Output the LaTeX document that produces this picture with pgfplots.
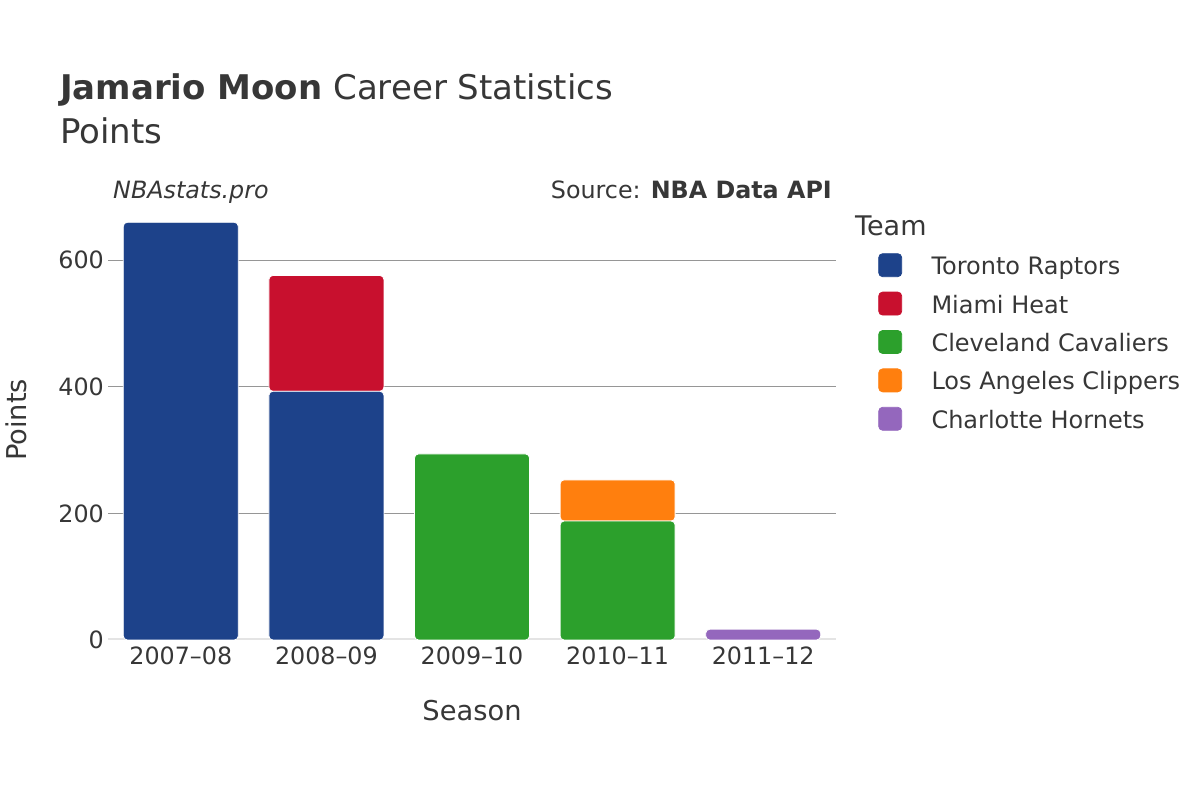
\documentclass[border=0pt]{standalone}
\usepackage{fontspec}
\setmainfont{DejaVu Sans}
\usepackage{pgfplots}
\usepackage{pgfplotstable}
\pgfplotsset{compat=1.18}

\definecolor{txt}{RGB}{55,55,55}
\definecolor{tor}{RGB}{29,66,138}
\definecolor{mia}{RGB}{200,16,46}
\definecolor{cle}{RGB}{44,160,44}
\definecolor{lac}{RGB}{255,127,14}
\definecolor{cha}{RGB}{148,103,189}
\definecolor{gridc}{RGB}{150,150,150}
\definecolor{zeroc}{RGB}{228,228,228}

% points per season, one column per team (stacked)
\pgfplotstableread{
x   tor  mia  cle  lac  cha
0   660  0    0    0    0
1   393  183  0    0    0
2   0    0    294  0    0
3   0    0    188  65   0
4   0    0    0    0    17
}\points

\pgfplotsset{
  teambar/.style={fill=#1, draw=white, line width=0.8bp, rounded corners=4bp,
    legend image code/.code={\fill[#1, rounded corners=4bp] (0bp,-7.5bp) rectangle (23bp,15.5bp);}},
}

\begin{document}
\begin{tikzpicture}[x=1bp, y=1bp]
\path[use as bounding box] (0,0) rectangle (1200,800);

\begin{axis}[
  at={(108bp,160bp)}, anchor=south west,
  scale only axis, width=728bp, height=439.2bp,
  xmin=-0.5, xmax=4.5, ymin=0, ymax=694,
  ybar stacked, bar width=115bp,
  xtick={0,1,2,3,4},
  xticklabels={2007–08,2008–09,2009–10,2010–11,2011–12},
  ytick={0,200,400,600},
  ymajorgrids, grid style={gridc, line width=1bp},
  axis line style={draw=none}, major tick length=0pt,
  tick label style={font=\fontsize{23.8bp}{28bp}\selectfont, text=txt},
  yticklabel style={anchor=east, inner sep=0pt, xshift=-4bp},
  xticklabel style={anchor=base, inner sep=0pt, yshift=-25bp},
  /pgf/number format/assume math mode=true,
  legend cell align=left,
  legend style={at={(axis description cs:1.0581,0.8805)}, anchor=north west,
    draw=none, fill=none, inner sep=0pt, outer sep=0pt,
    row sep=11bp, column sep=29.4bp,
    font=\fontsize{24bp}{28.8bp}\selectfont, text=txt,
    nodes={inner sep=0pt, text height=17bp, text depth=6bp}},
]
\addplot[teambar=tor] table[x=x, y=tor] {\points};
\addlegendentry{Toronto Raptors}
\addplot[teambar=mia] table[x=x, y=mia] {\points};
\addlegendentry{Miami Heat}
\addplot[teambar=cle] table[x=x, y=cle] {\points};
\addlegendentry{Cleveland Cavaliers}
\addplot[teambar=lac] table[x=x, y=lac] {\points};
\addlegendentry{Los Angeles Clippers}
\addplot[teambar=cha] table[x=x, y=cha] {\points};
\addlegendentry{Charlotte Hornets}
\draw[zeroc, line width=3.5bp] (axis cs:-0.5,0) -- (axis cs:4.5,0);
\end{axis}

% titles and annotations
\node[anchor=base west, inner sep=0pt, text=txt, font=\fontsize{34bp}{40bp}\selectfont]
  at (60,700.7) {\textbf{Jamario Moon} Career Statistics};
\node[anchor=base west, inner sep=0pt, text=txt, font=\fontsize{34bp}{40bp}\selectfont]
  at (60,656.7) {Points};
\node[anchor=base west, inner sep=0pt, text=txt, font=\fontsize{23.8bp}{28bp}\selectfont\itshape]
  at (113,601.7) {NBAstats.pro};
\node[anchor=base east, inner sep=0pt, text=txt, font=\fontsize{23.8bp}{28bp}\selectfont]
  at (832,601.7) {Source: \textbf{NBA Data API}};
\node[anchor=base west, inner sep=0pt, text=txt, font=\fontsize{27bp}{32bp}\selectfont]
  at (855,564) {Team};
\node[anchor=base, inner sep=0pt, text=txt, font=\fontsize{27.3bp}{32bp}\selectfont]
  at (472,79.3) {Season};
\node[anchor=base, rotate=90, inner sep=0pt, text=txt, font=\fontsize{27.3bp}{32bp}\selectfont]
  at (26.7,380) {Points};
\end{tikzpicture}
\end{document}
